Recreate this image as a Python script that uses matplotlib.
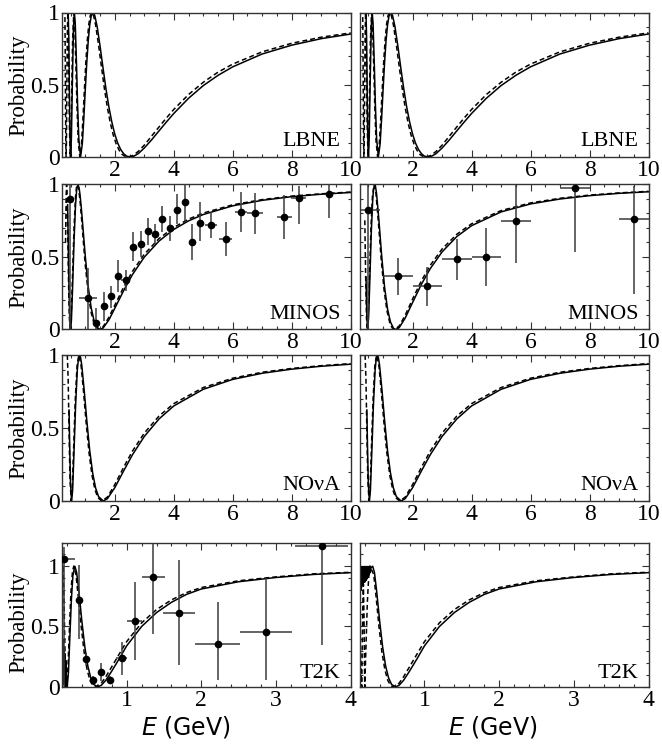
import matplotlib
matplotlib.use("Agg")
import matplotlib.pyplot as plt
from matplotlib.ticker import MultipleLocator, FixedLocator, FixedFormatter

plt.rcParams["font.family"] = ["Liberation Serif", "DejaVu Serif"]
plt.rcParams["mathtext.fontset"] = "dejavusans"

# ------- curves (E in GeV, survival probability) -------
lbne_solid_E = [0.42, 0.44, 0.46, 0.48, 0.504, 0.53, 0.56, 0.60, 0.63, 0.66, 0.70, 0.74, 0.78, 0.84,
                0.90, 0.95, 1.0, 1.05, 1.1, 1.15, 1.2, 1.26, 1.32, 1.4, 1.5, 1.6, 1.7, 1.8, 1.9, 2.0,
                2.1, 2.2, 2.3, 2.4, 2.52, 2.65, 2.8, 3.0, 3.25, 3.5, 3.75, 4.0, 4.5, 5.0, 5.5, 6.0,
                7.0, 8.0, 9.0, 10.0]
lbne_solid_P = [1.0, 0.830, 0.471, 0.149, 0.0, 0.140, 0.497, 0.903, 1.0, 0.922, 0.657, 0.355, 0.128, 0.0,
                0.094, 0.268, 0.467, 0.653, 0.805, 0.912, 0.975, 1.0, 0.980, 0.905, 0.769, 0.618, 0.473,
                0.346, 0.242, 0.158, 0.096, 0.052, 0.023, 0.006, 0.0, 0.006, 0.024, 0.062, 0.119, 0.181,
                0.242, 0.301, 0.406, 0.494, 0.565, 0.624, 0.713, 0.774, 0.819, 0.851]
lbne_dash_E = [0.31, 0.32, 0.33, 0.34, 0.349, 0.36, 0.37, 0.38, 0.39, 0.407, 0.42, 0.44, 0.46, 0.489,
               0.51, 0.54, 0.57, 0.611, 0.64, 0.68, 0.72, 0.76, 0.815, 0.87, 0.92, 0.97, 1.02, 1.07,
               1.12, 1.17, 1.222, 1.28, 1.35, 1.45, 1.55, 1.65, 1.75, 1.85, 1.95, 2.05, 2.15, 2.25,
               2.35, 2.445, 2.6, 2.8, 3.0, 3.25, 3.5, 3.75, 4.0, 4.5, 5.0, 5.5, 6.0, 7.0, 8.0, 9.0, 10.0]
lbne_dash_P = [0.968, 0.712, 0.357, 0.087, 0.0, 0.104, 0.334, 0.604, 0.832, 1.0, 0.923, 0.588, 0.225, 0.0,
               0.102, 0.458, 0.808, 1.0, 0.922, 0.647, 0.339, 0.112, 0.0, 0.086, 0.263, 0.468, 0.660,
               0.813, 0.920, 0.980, 1.0, 0.980, 0.914, 0.776, 0.621, 0.471, 0.341, 0.234, 0.151, 0.089,
               0.046, 0.018, 0.004, 0.0, 0.009, 0.039, 0.082, 0.145, 0.208, 0.270, 0.329, 0.432, 0.517,
               0.587, 0.643, 0.728, 0.787, 0.829, 0.859]

minos_nu_solid_E = [0.40, 0.42, 0.44, 0.47, 0.5008, 0.53, 0.57, 0.62, 0.67, 0.71, 0.7512, 0.79, 0.82,
                    0.86, 0.90, 0.95, 1.0, 1.1, 1.2, 1.3, 1.4, 1.5024, 1.6, 1.8, 2.0, 2.3, 2.6, 3.0,
                    3.5, 4.0, 4.5, 5.0, 6.0, 7.0, 8.0, 9.0, 10.0]
minos_nu_solid_P = [0.860, 0.620, 0.367, 0.092, 0.0, 0.066, 0.293, 0.619, 0.862, 0.967, 1.0, 0.976, 0.932,
                    0.850, 0.754, 0.628, 0.505, 0.295, 0.149, 0.059, 0.013, 0.0, 0.009, 0.066, 0.146,
                    0.268, 0.379, 0.499, 0.610, 0.690, 0.749, 0.793, 0.853, 0.891, 0.916, 0.933, 0.945]
minos_nu_dash_E = [0.33, 0.35, 0.366, 0.38, 0.40, 0.42, 0.44, 0.46, 0.488, 0.53, 0.57, 0.62, 0.67, 0.70,
                   0.732, 0.77, 0.82, 0.86, 0.90, 0.95, 1.0, 1.1, 1.2, 1.3, 1.464, 1.6, 1.8, 2.0, 2.3,
                   2.6, 3.0, 3.5, 4.0, 4.5, 5.0, 6.0, 7.0, 8.0, 9.0, 10.0]
minos_nu_dash_P = [0.598, 0.919, 1.0, 0.948, 0.742, 0.478, 0.242, 0.081, 0.0, 0.133, 0.393, 0.711, 0.918,
                   0.979, 1.0, 0.976, 0.891, 0.797, 0.694, 0.566, 0.444, 0.248, 0.115, 0.039, 0.0, 0.018,
                   0.084, 0.167, 0.292, 0.401, 0.519, 0.627, 0.704, 0.761, 0.803, 0.860, 0.896, 0.920,
                   0.936, 0.948]

minos_nubar_solid_E = [0.42, 0.45, 0.4775, 0.51, 0.55, 0.60, 0.65, 0.68, 0.7162, 0.74, 0.78, 0.86, 0.95,
                       1.05, 1.15, 1.25, 1.35, 1.4324, 1.55, 1.75, 2.0, 2.3, 2.6, 3.0, 3.5, 4.0, 5.0,
                       6.0, 7.0, 8.0, 9.0, 10.0]
minos_nubar_solid_P = [0.362, 0.081, 0.0, 0.088, 0.339, 0.673, 0.901, 0.972, 1.0, 0.990, 0.935, 0.749,
                       0.513, 0.293, 0.142, 0.052, 0.009, 0.0, 0.014, 0.079, 0.186, 0.312, 0.420, 0.535,
                       0.641, 0.716, 0.811, 0.866, 0.900, 0.923, 0.939, 0.950]
minos_nubar_dash_E = [0.38, 0.41, 0.44, 0.4647, 0.50, 0.54, 0.59, 0.64, 0.6971, 0.76, 0.84, 0.93, 1.03,
                      1.13, 1.23, 1.31, 1.3942, 1.55, 1.75, 2.0, 2.3, 2.6, 3.0, 3.5, 4.0, 5.0, 6.0, 7.0,
                      8.0, 9.0, 10.0]
minos_nubar_dash_P = [0.753, 0.346, 0.069, 0.0, 0.107, 0.373, 0.709, 0.924, 1.0, 0.934, 0.741, 0.499,
                      0.278, 0.129, 0.044, 0.010, 0.0, 0.025, 0.099, 0.210, 0.336, 0.443, 0.555, 0.657,
                      0.729, 0.820, 0.873, 0.905, 0.927, 0.942, 0.953]

nova_solid_E = [0.45, 0.47, 0.50, 0.5369, 0.57, 0.62, 0.67, 0.73, 0.77, 0.8053, 0.84, 0.88, 0.96, 1.05,
                1.15, 1.25, 1.35, 1.45, 1.6107, 1.75, 2.0, 2.3, 2.6, 3.0, 3.5, 4.0, 5.0, 6.0, 7.0, 8.0,
                9.0, 10.0]
nova_solid_P = [0.623, 0.386, 0.116, 0.0, 0.073, 0.349, 0.649, 0.899, 0.979, 1.0, 0.983, 0.931, 0.765,
                0.554, 0.346, 0.192, 0.089, 0.030, 0.0, 0.016, 0.091, 0.206, 0.317, 0.442, 0.562, 0.651,
                0.765, 0.833, 0.875, 0.903, 0.923, 0.937]
nova_dash_E = [0.39, 0.42, 0.45, 0.48, 0.522, 0.56, 0.61, 0.66, 0.72, 0.783, 0.86, 0.94, 1.03, 1.13, 1.23,
               1.33, 1.43, 1.566, 1.75, 2.0, 2.3, 2.6, 3.0, 3.5, 4.0, 5.0, 6.0, 7.0, 8.0, 9.0, 10.0]
nova_dash_P = [1.0, 0.829, 0.469, 0.161, 0.0, 0.099, 0.395, 0.694, 0.926, 1.0, 0.923, 0.749, 0.533, 0.325,
               0.173, 0.076, 0.022, 0.0, 0.027, 0.112, 0.231, 0.342, 0.465, 0.582, 0.667, 0.777, 0.841,
               0.882, 0.908, 0.927, 0.941]

t2k_nu_solid_E = [0.133, 0.138, 0.143, 0.149, 0.156, 0.163, 0.170, 0.178, 0.186, 0.195, 0.2037, 0.22,
                  0.24, 0.26, 0.28, 0.3056, 0.33, 0.36, 0.40, 0.44, 0.48, 0.52, 0.56, 0.611, 0.66, 0.72,
                  0.80, 0.90, 1.0, 1.2, 1.4, 1.6, 1.8, 2.0, 2.5, 3.0, 3.5, 4.0]
t2k_nu_solid_P = [0.48, 0.05, 0.40, 0.02, 0.33, 0.03, 0.28, 0.0, 0.22, 0.02, 0.0, 0.117, 0.427, 0.726,
                  0.920, 1.0, 0.947, 0.791, 0.544, 0.330, 0.173, 0.074, 0.021, 0.0, 0.014, 0.055, 0.131,
                  0.233, 0.34, 0.50, 0.615, 0.70, 0.765, 0.81, 0.87, 0.905, 0.93, 0.945]
t2k_nu_dash_E = [0.135, 0.14, 0.1464, 0.16, 0.175, 0.1952, 0.215, 0.235, 0.255, 0.275, 0.2928, 0.32, 0.35,
                 0.39, 0.43, 0.47, 0.51, 0.55, 0.5857, 0.66, 0.72, 0.80, 0.90, 1.0, 1.2, 1.4, 1.6, 1.8,
                 2.0, 2.5, 3.0, 3.5, 4.0]
t2k_nu_dash_P = [0.743, 0.919, 1.0, 0.742, 0.269, 0.0, 0.176, 0.512, 0.798, 0.959, 1.0, 0.931, 0.759,
                 0.504, 0.290, 0.142, 0.053, 0.010, 0.0, 0.031, 0.084, 0.167, 0.272, 0.375, 0.53, 0.64,
                 0.72, 0.78, 0.822, 0.878, 0.91, 0.935, 0.948]

t2k_nubar_solid_E = [0.132, 0.136, 0.140, 0.144, 0.148, 0.152, 0.156, 0.160, 0.164, 0.168, 0.172, 0.176,
                     0.180, 0.184, 0.188, 0.192, 0.196, 0.200, 0.204, 0.208, 0.212, 0.216, 0.220, 0.224,
                     0.228, 0.232, 0.236, 0.240, 0.244, 0.248, 0.252, 0.256, 0.260, 0.264, 0.268, 0.272,
                     0.276, 0.280, 0.3056, 0.33, 0.36, 0.40, 0.44, 0.48, 0.52, 0.56, 0.611, 0.66, 0.72,
                     0.80, 0.90, 1.0, 1.2, 1.4, 1.6, 1.8, 2.0, 2.5, 3.0, 3.5, 4.0]
t2k_nubar_solid_P = [0.78, 1.0, 0.80, 1.0, 0.80, 1.0, 0.82, 1.0, 0.84, 1.0, 0.84, 1.0, 0.85, 1.0, 0.86,
                     1.0, 0.86, 1.0, 0.87, 1.0, 0.88, 1.0, 0.88, 1.0, 0.89, 1.0, 0.90, 1.0, 0.91, 1.0,
                     0.92, 1.0, 0.93, 1.0, 0.94, 1.0, 0.95, 0.98, 1.0, 0.947, 0.791, 0.544, 0.330, 0.173,
                     0.074, 0.021, 0.0, 0.014, 0.055, 0.131, 0.233, 0.34, 0.50, 0.615, 0.70, 0.765, 0.81,
                     0.87, 0.905, 0.93, 0.945]
t2k_nubar_dash_E = [0.133, 0.145, 0.16, 0.172, 0.182, 0.19, 0.20, 0.215, 0.235, 0.255, 0.27, 0.29, 0.32,
                    0.35, 0.39, 0.43, 0.47, 0.51, 0.55, 0.5857, 0.66, 0.72, 0.80, 0.90, 1.0, 1.2, 1.4,
                    1.6, 1.8, 2.0, 2.5, 3.0, 3.5, 4.0]
t2k_nubar_dash_P = [0.55, 0.20, 0.0, 0.60, 0.85, 0.60, 0.0, 0.30, 0.70, 0.93, 1.0, 0.97, 0.931, 0.759,
                    0.504, 0.290, 0.142, 0.053, 0.010, 0.0, 0.031, 0.084, 0.167, 0.272, 0.375, 0.53, 0.64,
                    0.72, 0.78, 0.822, 0.878, 0.91, 0.935, 0.948]

# ------- measured points -------
minos_nu_E = [0.49, 1.10, 1.35, 1.63, 1.855, 2.10, 2.37, 2.62, 2.875, 3.11, 3.35, 3.61, 3.875, 4.11,
              4.39, 4.61, 4.89, 5.25, 5.76, 6.27, 6.75, 7.75, 8.23, 9.27]
minos_nu_P = [0.90, 0.217, 0.046, 0.16, 0.228, 0.37, 0.338, 0.57, 0.589, 0.68, 0.66, 0.765, 0.70, 0.826,
              0.88, 0.605, 0.737, 0.72, 0.625, 0.81, 0.80, 0.776, 0.91, 0.936]
minos_nu_xerr = [0.0, 0.31, 0.1, 0.1, 0.1, 0.1, 0.15, 0.1, 0.1, 0.1, 0.1, 0.1, 0.1, 0.1, 0.1, 0.1, 0.1,
                 0.2, 0.22, 0.2, 0.28, 0.25, 0.25, 0.0]
minos_nu_ylo = [0.90, 0.22, 0.046, 0.10, 0.08, 0.11, 0.07, 0.10, 0.09, 0.10, 0.07, 0.09, 0.09, 0.10, 0.13,
                0.125, 0.13, 0.09, 0.115, 0.14, 0.14, 0.15, 0.18, 0.17]
minos_nu_yhi = [0.10, 0.21, 0.10, 0.10, 0.07, 0.11, 0.07, 0.10, 0.09, 0.09, 0.07, 0.09, 0.08, 0.11, 0.12,
                0.125, 0.14, 0.09, 0.115, 0.14, 0.14, 0.15, 0.08, 0.07]

minos_nubar_E = [0.5, 1.5, 2.5, 3.5, 4.5, 5.5, 7.5, 9.5]
minos_nubar_P = [0.826, 0.366, 0.303, 0.483, 0.503, 0.747, 0.977, 0.763]
minos_nubar_xerr = [0.4, 0.5, 0.5, 0.5, 0.5, 0.5, 0.5, 0.5]
minos_nubar_ylo = [0.826, 0.13, 0.14, 0.145, 0.20, 0.29, 0.44, 0.517]
minos_nubar_yhi = [0.174, 0.13, 0.13, 0.142, 0.20, 0.25, 0.03, 0.23]

t2k_E = [0.155, 0.355, 0.457, 0.555, 0.657, 0.777, 0.933, 1.11, 1.355, 1.70, 2.22, 2.87, 3.61]
t2k_P = [1.06, 0.718, 0.233, 0.06, 0.123, 0.06, 0.238, 0.548, 0.91, 0.61, 0.354, 0.457, 1.165]
t2k_xerr = [0.15, 0.025, 0.04, 0.03, 0.03, 0.05, 0.07, 0.10, 0.155, 0.21, 0.30, 0.35, 0.36]
t2k_ylo = [1.06, 0.32, 0.05, 0.03, 0.077, 0.03, 0.138, 0.323, 0.47, 0.43, 0.294, 0.397, 0.815]
t2k_yhi = [0.10, 0.29, 0.05, 0.03, 0.074, 0.03, 0.137, 0.322, 0.27, 0.44, 0.346, 0.443, 0.10]

panel_names = ["LBNE", "MINOS", "NO\u03bdA", "T2K"]

W, H = 662, 745
fig = plt.figure(figsize=(W / 100, H / 100), dpi=100)

col_x = [61.7, 359.5]
col_w = 289.0
rows = [(12.5, 157.0), (184.5, 329.5), (355.0, 501.0), (543.0, 687.0)]


def make_ax(r, c):
    top, bot = rows[r]
    ax = fig.add_axes([col_x[c] / W, 1 - bot / H, col_w / W, (bot - top) / H])
    for s in ax.spines.values():
        s.set_linewidth(1.0)
        s.set_color("#333333")
    ax.tick_params(which="both", direction="in", top=True, right=True, colors="#333333",
                   labelcolor="black", labelsize=17, width=0.8)
    ax.tick_params(which="major", length=5)
    ax.tick_params(which="minor", length=2.5)
    if r < 3:
        ax.set_xlim(0.2, 10)
        ax.set_ylim(0, 1)
        ax.xaxis.set_major_locator(FixedLocator([2, 4, 6, 8, 10]))
        ax.xaxis.set_minor_locator(MultipleLocator(0.5))
    else:
        ax.set_xlim(0.13, 4)
        ax.set_ylim(0, 1.19)
        ax.xaxis.set_major_locator(FixedLocator([1, 2, 3, 4]))
        ax.xaxis.set_minor_locator(MultipleLocator(0.2))
    ax.yaxis.set_major_locator(FixedLocator([0, 0.5, 1]))
    ax.yaxis.set_major_formatter(FixedFormatter(["0", "0.5", "1"]))
    ax.yaxis.set_minor_locator(MultipleLocator(0.1))
    ax.tick_params(axis="x", pad=2)
    ax.tick_params(axis="y", pad=1.5)
    if c == 0:
        ax.set_ylabel("Probability", fontsize=16.5)
        ax.yaxis.set_label_coords(-0.112, 0.5 if r < 3 else 0.45)
    else:
        ax.tick_params(axis="y", labelleft=False)
    ax.text(0.965, 0.04 if r < 3 else 0.03, panel_names[r], transform=ax.transAxes,
            ha="right", va="bottom", fontsize=16)
    if r == 3:
        ax.set_xlabel("$E$ (GeV)", fontsize=17, family="DejaVu Sans")
        ax.xaxis.set_label_coords(0.43 if c == 0 else 0.46, -0.19)
    return ax


solid_kw = dict(color="black", lw=1.1, solid_joinstyle="miter")
dash_kw = dict(color="black", lw=1.1, linestyle=(0, (3.2, 2.0)))
err_kw = dict(fmt="o", color="black", ms=4.5, ecolor="#3a3a3a", elinewidth=1.1, capsize=0, zorder=3)

curves = [
    [(lbne_solid_E, lbne_solid_P, lbne_dash_E, lbne_dash_P),
     (lbne_solid_E, lbne_solid_P, lbne_dash_E, lbne_dash_P)],
    [(minos_nu_solid_E, minos_nu_solid_P, minos_nu_dash_E, minos_nu_dash_P),
     (minos_nubar_solid_E, minos_nubar_solid_P, minos_nubar_dash_E, minos_nubar_dash_P)],
    [(nova_solid_E, nova_solid_P, nova_dash_E, nova_dash_P),
     (nova_solid_E, nova_solid_P, nova_dash_E, nova_dash_P)],
    [(t2k_nu_solid_E, t2k_nu_solid_P, t2k_nu_dash_E, t2k_nu_dash_P),
     (t2k_nubar_solid_E, t2k_nubar_solid_P, t2k_nubar_dash_E, t2k_nubar_dash_P)],
]

axes = {}
for r in range(4):
    for c in range(2):
        ax = make_ax(r, c)
        sE, sP, dE, dP = curves[r][c]
        ax.plot(dE, dP, **dash_kw)
        ax.plot(sE, sP, **solid_kw)
        axes[(r, c)] = ax

axes[(1, 0)].errorbar(minos_nu_E, minos_nu_P, xerr=minos_nu_xerr,
                      yerr=[minos_nu_ylo, minos_nu_yhi], **err_kw)
axes[(1, 1)].errorbar(minos_nubar_E, minos_nubar_P, xerr=minos_nubar_xerr,
                      yerr=[minos_nubar_ylo, minos_nubar_yhi], **err_kw)
axes[(3, 0)].errorbar(t2k_E, t2k_P, xerr=t2k_xerr, yerr=[t2k_ylo, t2k_yhi], **err_kw)

fig.savefig("out.png", dpi=100)
